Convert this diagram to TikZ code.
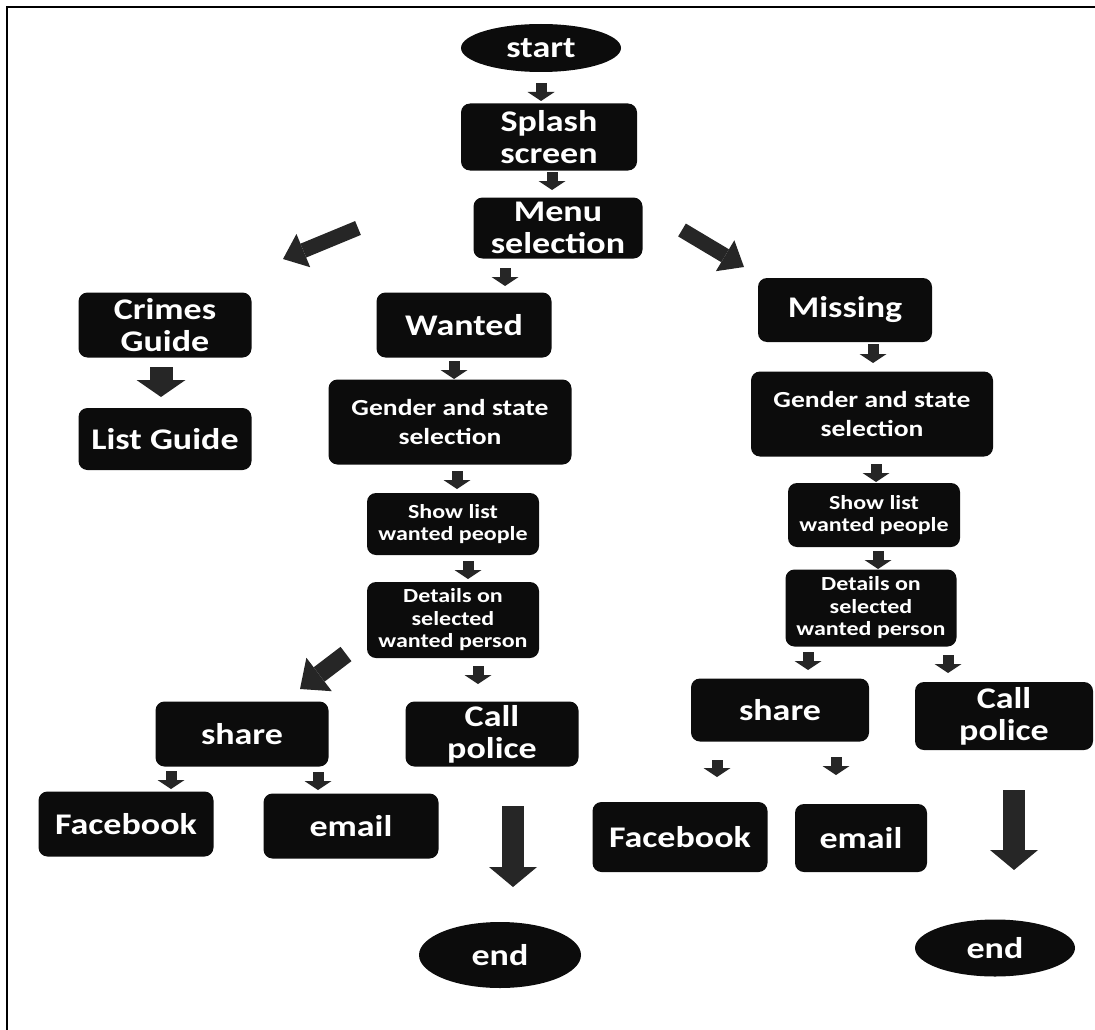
\documentclass[tikz,border=0pt]{standalone}
\usepackage{fontspec}
\newfontfamily\nf{Carlito}[FakeStretch=1.2]
\usetikzlibrary{shapes.geometric,arrows.meta}
\definecolor{nodefill}{RGB}{12,12,12}
\definecolor{arrowc}{RGB}{38,38,38}
\tikzset{
  box/.style={fill=nodefill, rounded corners=9pt, text=white, align=center,
    inner sep=1pt, font=\nf\bfseries\fontsize{30}{32}\selectfont},
  oval/.style={ellipse, fill=nodefill, text=white, inner sep=0pt,
    font=\nf\bfseries\fontsize{30}{32}\selectfont},
  midtext/.style={font=\nf\bfseries\fontsize{23}{29}\selectfont},
  smalltext/.style={font=\nf\bfseries\fontsize{20}{22.5}\selectfont},
  sarrow/.style={draw=arrowc, line width=11pt,
    -{Triangle[width=27pt,length=9pt,line width=0pt]}},
  marrow/.style={draw=arrowc, line width=23pt,
    -{Triangle[width=49pt,length=17pt,line width=0pt]}},
  darrow/.style={draw=arrowc, line width=15pt,
    -{Triangle[width=36pt,length=22pt,line width=0pt]}},
  wdarrow/.style={draw=arrowc, line width=18pt,
    -{Triangle[width=42pt,length=24pt,line width=0pt]}},
  barrow/.style={draw=arrowc, line width=22pt,
    -{Triangle[width=48pt,length=20pt,line width=0pt]}},
  frame/.style={draw=black, line width=2pt}
}
\begin{document}
\begin{tikzpicture}[x=1pt,y=-1pt]
\useasboundingbox (0,0) rectangle (1095,1030);
\draw[frame] (7,1030) -- (7,7) -- (1095,7);

% nodes
\node[oval, minimum width=160pt, minimum height=48pt] (start) at (541,48) {start};
\node[box, minimum width=176pt, minimum height=67pt] (splash) at (549,137) {Splash\\screen};
\node[box, minimum width=169pt, minimum height=61pt] (menu) at (558,228) {Menu\\selection};
\node[box, minimum width=173pt, minimum height=65pt] (crimes) at (165,325) {Crimes\\Guide};
\node[box, minimum width=173pt, minimum height=62pt] (list) at (165,439) {List Guide};
\node[box, minimum width=175pt, minimum height=65pt] (wanted) at (464,325) {Wanted};
\node[box, midtext, minimum width=243pt, minimum height=85pt] (genw) at (450,422) {Gender and state\\selection};
\node[box, smalltext, minimum width=172pt, minimum height=62pt] (showw) at (453,524) {Show list\\wanted people};
\node[box, smalltext, minimum width=172pt, minimum height=76pt] (detw) at (453,620) {Details on\\selected\\wanted person};
\node[box, minimum width=174pt, minimum height=64pt] (missing) at (845,310) {Missing};
\node[box, midtext, minimum width=242pt, minimum height=85pt] (genm) at (872,414) {Gender and state\\selection};
\node[box, smalltext, minimum width=172pt, minimum height=64pt] (showm) at (874,515) {Show list\\wanted people};
\node[box, smalltext, minimum width=171pt, minimum height=77pt] (detm) at (871,608) {Details on\\selected\\wanted person};
\node[box, minimum width=173pt, minimum height=65pt] (sharew) at (242,734) {share};
\node[box, minimum width=173pt, minimum height=65pt] (callw) at (492,734) {Call\\police};
\node[box, minimum width=175pt, minimum height=65pt] (fbw) at (126,824) {Facebook};
\node[box, minimum width=175pt, minimum height=65pt] (emailw) at (351,826) {email};
\node[oval, minimum width=162pt, minimum height=66pt] (endw) at (500,955) {end};
\node[box, minimum width=178pt, minimum height=63pt] (sharem) at (780,710) {share};
\node[box, minimum width=178pt, minimum height=68pt] (callm) at (1004,716) {Call\\police};
\node[box, minimum width=175pt, minimum height=70pt] (fbm) at (680,837) {Facebook};
\node[box, minimum width=132pt, minimum height=68pt] (emailm) at (861,838) {email};
\node[oval, minimum width=160pt, minimum height=57pt] (endm) at (995,948) {end};

% arrow end points
\coordinate (a1s) at (541,83);  \coordinate (a1e) at (541,101);
\coordinate (a2s) at (552,172); \coordinate (a2e) at (552,190);
\coordinate (a3s) at (505,268); \coordinate (a3e) at (505,286);
\coordinate (a4s) at (454,361); \coordinate (a4e) at (454,379);
\coordinate (a5s) at (457,471); \coordinate (a5e) at (457,489);
\coordinate (a6s) at (468,561); \coordinate (a6e) at (468,579);
\coordinate (a7s) at (478,666); \coordinate (a7e) at (478,684);
\coordinate (a8s) at (873,344); \coordinate (a8e) at (873,363);
\coordinate (a9s) at (876,464); \coordinate (a9e) at (876,482);
\coordinate (a10s) at (878,551); \coordinate (a10e) at (878,569);
\coordinate (a11s) at (808,652); \coordinate (a11e) at (808,670);
\coordinate (a12s) at (948,655); \coordinate (a12e) at (948,673);
\coordinate (a13s) at (171,771); \coordinate (a13e) at (171,789);
\coordinate (a14s) at (318,772); \coordinate (a14e) at (318,790);
\coordinate (a15s) at (717,760); \coordinate (a15e) at (717,777);
\coordinate (a16s) at (836,757); \coordinate (a16e) at (836,775);
\coordinate (cls) at (161,367); \coordinate (cle) at (161,397);
\coordinate (dls) at (358,228); \coordinate (dle) at (283,259);
\coordinate (drs) at (682,230); \coordinate (dre) at (744,267);
\coordinate (dws) at (346,654); \coordinate (dwe) at (300,689);
\coordinate (bws) at (513,806); \coordinate (bwe) at (513,887);
\coordinate (bms) at (1014,790); \coordinate (bme) at (1014,870);

% connectors
\draw[sarrow] (a1s) -- (a1e);
\draw[sarrow] (a2s) -- (a2e);
\draw[sarrow] (a3s) -- (a3e);
\draw[sarrow] (a4s) -- (a4e);
\draw[sarrow] (a5s) -- (a5e);
\draw[sarrow] (a6s) -- (a6e);
\draw[sarrow] (a7s) -- (a7e);
\draw[sarrow] (a8s) -- (a8e);
\draw[sarrow] (a9s) -- (a9e);
\draw[sarrow] (a10s) -- (a10e);
\draw[sarrow] (a11s) -- (a11e);
\draw[sarrow] (a12s) -- (a12e);
\draw[sarrow] (a13s) -- (a13e);
\draw[sarrow] (a14s) -- (a14e);
\draw[sarrow] (a15s) -- (a15e);
\draw[sarrow] (a16s) -- (a16e);
\draw[marrow] (cls) -- (cle);
\draw[darrow] (dls) -- (dle);
\draw[darrow] (drs) -- (dre);
\draw[wdarrow] (dws) -- (dwe);
\draw[barrow] (bws) -- (bwe);
\draw[barrow] (bms) -- (bme);
\end{tikzpicture}
\end{document}
